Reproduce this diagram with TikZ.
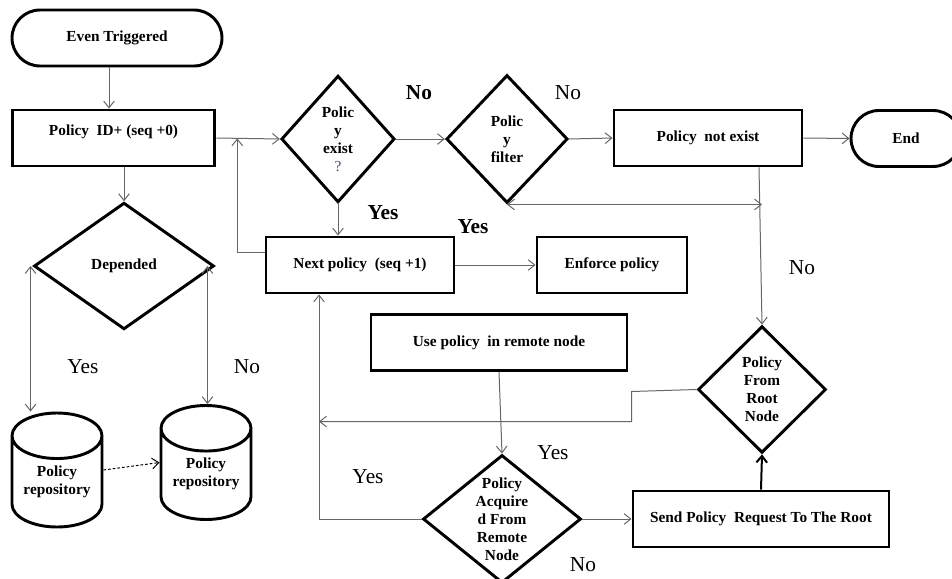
\documentclass[tikz,border=0pt]{standalone}
\usepackage{fontspec}
\setmainfont{Liberation Serif}
\usetikzlibrary{shapes.geometric,arrows.meta,calc}
\definecolor{qmark}{RGB}{70,80,110}
\newcommand{\nodefont}{\fontsize{11.5}{13.5}\selectfont\bfseries}
\newcommand{\tagfont}{\fontsize{16}{18}\selectfont}
\tikzstyle{Block} = [draw, rectangle, line width=2.2pt, minimum height=42pt, font=\nodefont]
\tikzstyle{Terminal} = [draw, rectangle, rounded corners=21pt, line width=2.2pt, minimum height=42pt, font=\nodefont]
\tikzstyle{Decision} = [draw, diamond, line width=2.2pt, inner sep=0pt, align=center, font=\nodefont]
\tikzstyle{Store} = [draw, cylinder, shape border rotate=90, aspect=0.6, line width=2.2pt, minimum width=67.5pt, minimum height=85.5pt, text depth=11pt, anchor=shape center, align=center, font=\nodefont]
\tikzstyle{Tag} = [inner sep=0pt, font=\tagfont]
\tikzstyle{Line} = [draw, ->, black!60, line width=0.75pt]

\begin{document}
\begin{tikzpicture}[x=0.75pt, y=-0.75pt, >={Straight Barb[length=5pt,width=8pt]}]
    \useasboundingbox (0,0) rectangle (952,578);
    \node[Terminal, minimum width=157.5pt]                 (trig)    at (117,38)    {Even Triggered};
    \node[Block, minimum width=152pt, text depth=12pt]     (pid)     at (113.5,138) {Policy\ \ ID+ (seq +0)};
    \node[Decision, minimum width=135pt, minimum height=95pt] (dep)  at (124,266)   {Depended};
    \node[Store]                                           (repoA)   at (57,470)    {Policy\\repository};
    \node[Store]                                           (repoB)   at (206,462.5) {Policy\\repository};
    \node[Decision, minimum width=85pt, minimum height=95pt] (exist) at (338,139)   {Polic\\y\\exist\\{\mdseries\color{qmark}?}};
    \node[Decision, minimum width=91pt, minimum height=96pt] (filter) at (507,139)  {Polic\\y\\filter};
    \node[Block, minimum width=141pt]                      (notex)   at (708,138)   {Policy\ \ not exist};
    \node[Terminal, minimum width=82.5pt]                  (endn)    at (906,138.5) {End};
    \node[Block, minimum width=141pt]                      (next)    at (360,265)   {Next policy\ \ (seq +1)};
    \node[Block, minimum width=112.5pt]                    (enforce) at (612,265)   {Enforce\ policy};
    \node[Block, minimum width=192pt]                      (remote)  at (499,342.5) {Use policy\ \ in remote node};
    \node[Decision, minimum width=96pt, minimum height=95pt] (root)  at (762,389.5) {Policy\\From\\Root\\Node};
    \node[Decision, minimum width=118.5pt, minimum height=96pt, shape aspect=1.2] (acq) at (502,519) {Policy\\Acquire\\d From\\Remote\\Node};
    \node[Block, minimum width=192pt]                      (send)    at (761,519)   {Send Policy\ \ Request To The Root};

    \node[Tag, font=\tagfont\bfseries] (noExist)  at (419,93)  {No};
    \node[Tag]                         (noFilter) at (568,93)  {No};
    \node[Tag, font=\tagfont\bfseries] (yesExist) at (383,213) {Yes};
    \node[Tag, font=\tagfont\bfseries] (yesNext)  at (473,227) {Yes};
    \node[Tag]                         (noRoot)   at (802,268) {No};
    \node[Tag]                         (yesDep)   at (83,367)  {Yes};
    \node[Tag]                         (noDep)    at (247,367) {No};
    \node[Tag]                         (yesLoop)  at (368,477) {Yes};
    \node[Tag]                         (yesAcq)   at (553,453) {Yes};
    \node[Tag]                         (noAcq)    at (583,565) {No};

    \draw[Line] ([xshift=-6pt]trig.south) -- ([xshift=-6pt]trig.south |- pid.north);
    \draw[Line] (pid.east) -- (exist.west);
    \draw[Line] ([yshift=9.75pt]next.west) -| ($(pid.east)!0.33!(exist.west)$);
    \draw[Line] (pid.south -| dep.north) -- (dep.north);
    \draw[Line, <->] ([xshift=-1.5pt]dep.west) -- ([xshift=-1.5pt]dep.west |- repoA.north);
    \draw[Line, <->] ([xshift=-6pt]dep.east) -- ([xshift=-6pt]dep.east |- repoB.north);
    \draw[Line, black, dash pattern=on 2pt off 1.5pt] (repoA.shape center -| repoA.east) -- (repoB.shape center -| repoB.west);
    \draw[Line] (exist.east) -- (filter.west);
    \draw[Line] (filter.east) -- (notex.west);
    \draw[Line] (notex.east) -- (endn.west);
    \draw[Line] (exist.south) -- (exist.south |- next.north);
    \draw[Line] (next.east) -- (enforce.west);
    \draw[Line, <->] (filter.south) -- (filter.south -| root.north);
    \draw[Line] ([xshift=38.25pt]notex.south) -- (root.north);
    \coordinate (loop) at ([xshift=-30.75pt]next.south);
    \draw[Line] (root.west) -- ++(-65,2) -- ++(0,30) coordinate (bend) -- (bend -| loop);
    \draw[Line] (acq.west) -- (acq.west -| loop) -- (loop);
    \draw[Line] (remote.south) -- (acq.north);
    \draw[Line] (acq.east) -- (send.west);
    \draw[Line, black, line width=1.5pt] (send.north) -- (root.south);
\end{tikzpicture}
\end{document}
